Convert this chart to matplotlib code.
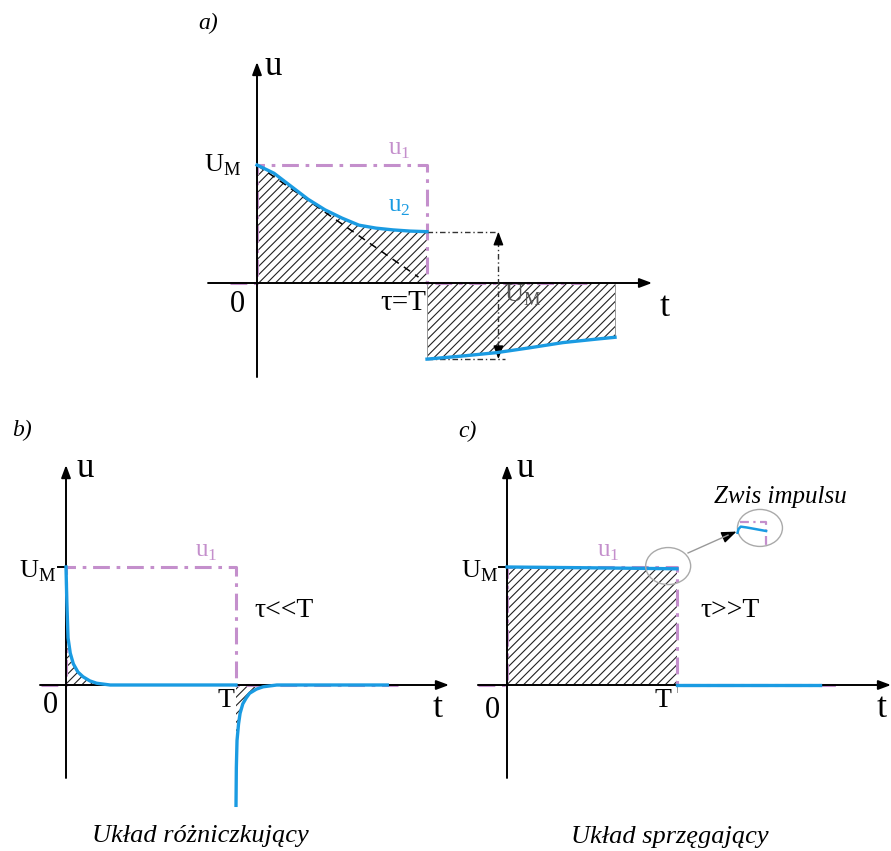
import numpy as np
import matplotlib
matplotlib.use("Agg")
import matplotlib.pyplot as plt
from matplotlib.patches import Ellipse

plt.rcParams['font.family'] = ['Liberation Serif', 'DejaVu Serif']
plt.rcParams['mathtext.fontset'] = 'custom'
plt.rcParams['mathtext.rm'] = 'Liberation Serif'
plt.rcParams['hatch.linewidth'] = 0.8

# --- data (t in units of T, u in units of U_M) ---
# a) tau = T
a_t_rise = [0.0, 0.1, 0.2, 0.3, 0.4, 0.5, 0.6, 0.7, 0.8, 0.9, 1.0]
a_u_rise = [1.0, 0.93, 0.82, 0.71, 0.62, 0.55, 0.49, 0.465, 0.45, 0.44, 0.435]
a_t_fall = [1.0, 1.2, 1.41, 1.6, 1.8, 2.0, 2.106]
a_u_fall = [-0.645, -0.62, -0.59, -0.55, -0.505, -0.475, -0.46]
a_tangent_t = [0.0, 0.95]
a_tangent_u = [1.0, 0.05]
a_u1_t = [-0.16, 0, 0, 1, 1, 1.94]
a_u1_u = [0, 0, 1, 1, 0, 0]

# b) tau << T
b_t_rise = [0.0, 0.005, 0.012, 0.025, 0.043, 0.07, 0.1, 0.14, 0.18, 0.26, 1.0]
b_u_rise = [1.0, 0.7, 0.4, 0.27, 0.18, 0.11, 0.07, 0.035, 0.015, 0.0, 0.0]
b_t_fall = [1.0, 1.002, 1.006, 1.015, 1.024, 1.04, 1.06, 1.08, 1.12, 1.16, 1.24, 1.89]
b_u_fall = [-1.02, -0.7, -0.47, -0.33, -0.24, -0.16, -0.11, -0.07, -0.035, -0.015, 0.0, 0.0]
b_u1_t = [-0.15, 0, 0, 1, 1, 1.95]
b_u1_u = [0, 0, 1, 1, 0, 0]

# c) tau >> T
c_t_top = [0.0, 0.5, 1.0]
c_u_top = [1.0, 0.993, 0.985]
c_t_after = [1.0, 1.84]
c_u_after = [0.0, 0.0]
c_u1_t = [-0.17, 0, 0, 1, 1, 1.95]
c_u1_u = [0, 0, 1, 1, 0, 0]
# "zwis impulsu" magnified detail
c_zoom_blue_t = [1.356, 1.362, 1.375, 1.410, 1.460, 1.524]
c_zoom_blue_u = [1.290, 1.322, 1.342, 1.335, 1.322, 1.305]
c_zoom_u1_t = [1.370, 1.524, 1.524]
c_zoom_u1_u = [1.381, 1.381, 1.169]

W, H = 891, 851
SX, SY = 170.0, 118.0   # pixels per T, per U_M
PURPLE = '#c48fcc'
BLUE = '#1a9be2'
HATCH = '#222222'

fig = plt.figure(figsize=(W / 100, H / 100), dpi=100)


def panel(ox, oy, box):
    left, top, right, bottom = box
    ax = fig.add_axes([left / W, 1 - bottom / H, (right - left) / W, (bottom - top) / H])
    ax.set_xlim((left - ox) / SX, (right - ox) / SX)
    ax.set_ylim((oy - bottom) / SY, (oy - top) / SY)
    ax.axis('off')
    return ax


def label(px, py, s, size=20, ha='left', **kw):
    fig.text(px / W, 1 - py / H, s, fontsize=size, ha=ha, va='baseline', **kw)


def arrow(ax, start, end, color='k', lw=1.4, hl=0.75, hw=0.28):
    ax.annotate('', xy=end, xytext=start,
                arrowprops=dict(arrowstyle='-|>,head_length=%g,head_width=%g' % (hl, hw),
                                lw=lw, color=color, shrinkA=0, shrinkB=0))


def axes_arrows(ax, xr, yr):
    arrow(ax, (xr[0], 0), (xr[1], 0))
    arrow(ax, (0, yr[0]), (0, yr[1]))


def hatch(ax, t, lo, hi):
    ax.fill_between(t, lo, hi, facecolor='none', edgecolor=HATCH, hatch='////', lw=0, zorder=1)


dashdot = (0, (5.5, 2.2, 1.2, 2.2))

# ---------------- a) ----------------
ax = panel(257, 283, (180, 0, 700, 392))
hatch(ax, a_t_rise, 0, a_u_rise)
hatch(ax, a_t_fall, a_u_fall, 0)
ax.plot([a_t_fall[0]] * 2, [0, a_u_fall[0]], color='#999999', lw=0.7, zorder=1)
ax.plot([a_t_fall[-1]] * 2, [0, a_u_fall[-1]], color='#999999', lw=0.7, zorder=1)
ax.plot(a_tangent_t, a_tangent_u, color='k', lw=1.1, ls=(0, (5, 4)), zorder=2)
ax.plot(a_u1_t, a_u1_u, color=PURPLE, lw=2.2, ls=dashdot, zorder=2)
axes_arrows(ax, (-0.288, 2.324), (-0.797, 1.873))
ax.plot(a_t_rise, a_u_rise, color=BLUE, lw=2.4, zorder=4)
ax.plot(a_t_fall, a_u_fall, color=BLUE, lw=2.4, zorder=4)
# U_M jump marker
xm = 1.42
ax.plot([1.0, xm], [a_u_rise[-1]] * 2, color='#333333', lw=1.0, ls=(0, (4, 2, 1, 2)), zorder=3)
ax.plot([1.0, 1.46], [a_u_fall[0]] * 2, color='#333333', lw=1.0, ls=(0, (4, 2, 1, 2)), zorder=3)
ax.plot([xm, xm], [a_u_rise[-1] - 0.08, a_u_fall[0] + 0.08], color='#333333', lw=1.0,
        ls=(0, (4, 2, 1, 2)), zorder=3)
arrow(ax, (xm, a_u_rise[-1] - 0.1), (xm, a_u_rise[-1]), lw=1.0, hl=0.8, hw=0.3)
arrow(ax, (xm, a_u_fall[0] + 0.1), (xm, a_u_fall[0]), lw=1.0, hl=0.8, hw=0.3)

label(198, 29, 'a)', size=17, style='italic')
label(265, 75, 'u', size=25)
label(204, 172, r'U$_{\rm M}$', size=19)
label(388, 155, r'u$_{\rm 1}$', size=18, color=PURPLE)
label(388, 212, r'u$_{\rm 2}$', size=18, color=BLUE)
label(245, 312, '0', size=22, ha='right')
label(426, 310, 'τ=T', size=21, ha='right')
label(504, 302, r'U$_{\rm M}$', size=19, color='#555555')
label(660, 316, 't', size=26)

# ---------------- b) ----------------
ax = panel(66, 685, (0, 392, 450, 851))
hatch(ax, b_t_rise, 0, b_u_rise)
hatch(ax, b_t_fall, b_u_fall, 0)
ax.plot(b_u1_t, b_u1_u, color=PURPLE, lw=2.2, ls=dashdot, zorder=2)
axes_arrows(ax, (-0.153, 2.253), (-0.788, 1.864))
ax.plot([-0.05, 0], [1, 1], color='k', lw=1.4, zorder=3)
ax.plot(b_t_rise, b_u_rise, color=BLUE, lw=2.4, zorder=4)
ax.plot(b_t_fall, b_u_fall, color=BLUE, lw=2.4, zorder=4)

label(12, 436, 'b)', size=17, style='italic')
label(77, 477, 'u', size=25)
label(19, 578, r'U$_{\rm M}$', size=19)
label(195, 557, r'u$_{\rm 1}$', size=18, color=PURPLE)
label(254, 617, 'τ<<T', size=20)
label(58, 713, '0', size=22, ha='right')
label(226, 707, 'T', size=20, ha='center')
label(433, 717, 't', size=26)
label(200, 842, 'Układ różniczkujący', size=19, ha='center', style='italic')

# ---------------- c) ----------------
ax = panel(507, 685, (450, 392, 891, 851))
hatch(ax, c_t_top, 0, c_u_top)
ax.plot(c_u1_t, c_u1_u, color=PURPLE, lw=2.2, ls=dashdot, zorder=2)
axes_arrows(ax, (-0.171, 2.259), (-0.788, 1.864))
ax.plot([-0.05, 0], [1, 1], color='k', lw=1.4, zorder=3)
ax.plot(c_t_top, c_u_top, color=BLUE, lw=2.4, zorder=4)
ax.plot(c_t_after, c_u_after, color=BLUE, lw=2.4, zorder=4)
ax.plot([1.0, 1.0], [0, -0.06], color='#999999', lw=0.7, zorder=3)
# magnified detail
ax.add_patch(Ellipse((0.948, 1.008), 45 / SX, 37 / SY, fill=False, ec='#aaaaaa', lw=1.0, zorder=5))
ax.add_patch(Ellipse((1.488, 1.331), 45 / SX, 37 / SY, fill=False, ec='#aaaaaa', lw=1.0, zorder=5))
ax.plot([1.065, 1.30], [1.119, 1.270], color='#999999', lw=1.0, zorder=5)
arrow(ax, (1.28, 1.257), (1.35, 1.30), lw=1.0, hl=0.9, hw=0.35)
ax.plot(c_zoom_u1_t, c_zoom_u1_u, color=PURPLE, lw=1.6, ls=(0, (4, 2, 1, 2)), zorder=5)
ax.plot(c_zoom_blue_t, c_zoom_blue_u, color=BLUE, lw=1.8, zorder=6)

label(458, 437, 'c)', size=17, style='italic')
label(517, 477, 'u', size=25)
label(461, 578, r'U$_{\rm M}$', size=19)
label(597, 557, r'u$_{\rm 1}$', size=18, color=PURPLE)
label(700, 617, 'τ>>T', size=20)
label(500, 718, '0', size=22, ha='right')
label(663, 707, 'T', size=20, ha='center')
label(877, 717, 't', size=26)
label(780, 503, 'Zwis impulsu', size=18, ha='center', style='italic')
label(670, 843, 'Układ sprzęgający', size=19, ha='center', style='italic')

fig.savefig('out.png', dpi=100, facecolor='white')
